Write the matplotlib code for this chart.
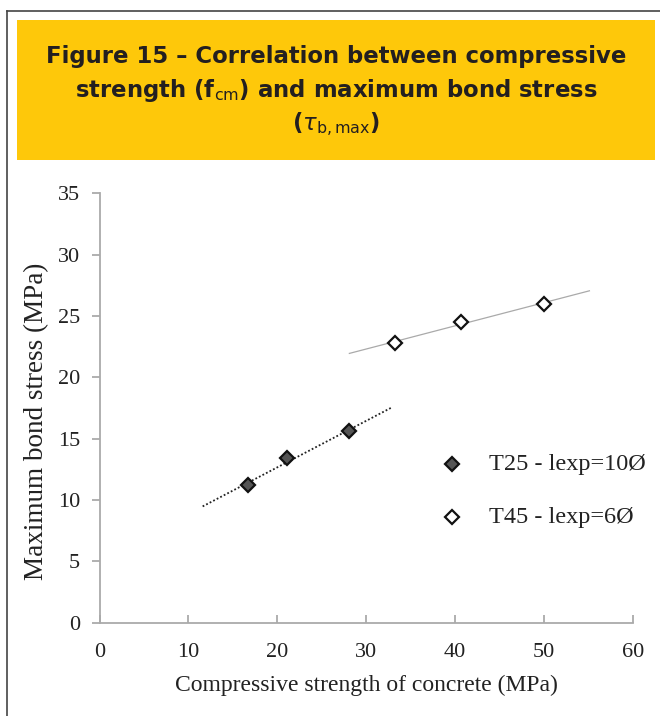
import matplotlib
matplotlib.use("Agg")
import matplotlib.pyplot as plt
import numpy as np
from matplotlib.patches import Rectangle
from matplotlib.lines import Line2D

# Data
t25_fcm = [16.7, 21.1, 28.1]
t25_tau = [11.2, 13.4, 15.6]
t45_fcm = [33.2, 40.6, 50.0]
t45_tau = [22.8, 24.5, 26.0]
t25_fit_range = [11.6, 32.9]
t45_fit_range = [28.1, 55.1]
x_ticks = [0, 10, 20, 30, 40, 50, 60]
y_ticks = [0, 5, 10, 15, 20, 25, 30, 35]
labels = ["T25 - lexp=10Ø", "T45 - lexp=6Ø"]
title_lines = ["Figure 15 – Correlation between compressive",
               r"strength (f$_{\mathrm{cm}}$) and maximum bond stress",
               r"($\tau_{\mathrm{b,max}}$)"]

W, H = 660, 716
plt.rcParams["mathtext.fontset"] = "dejavusans"
fig = plt.figure(figsize=(W / 100, H / 100), dpi=100)

# outer border (top & left)
fig.add_artist(Line2D([7 / W, 7 / W], [0, 1 - 11 / H], transform=fig.transFigure,
                      color="#444444", lw=1.2))
fig.add_artist(Line2D([7 / W, 1], [1 - 11 / H, 1 - 11 / H], transform=fig.transFigure,
                      color="#444444", lw=1.2))
# yellow header
fig.add_artist(Rectangle((17 / W, 1 - 160 / H), (655 - 17) / W, (160 - 20) / H,
                         transform=fig.transFigure, facecolor="#FEC80A", edgecolor="none"))

title_font = dict(family="DejaVu Sans", weight="bold", color="#231f20", fontsize=16.4)
fig.text(336 / W, 1 - 63.5 / H, title_lines[0], ha="center", va="baseline", **title_font)
fig.text(336 / W, 1 - 97 / H, title_lines[1], ha="center", va="baseline", **title_font)
fig.text(336 / W, 1 - 130 / H, title_lines[2], ha="center", va="baseline", **title_font)

ax = fig.add_axes([99.5 / W, 1 - 622.5 / H, (633 - 99.5) / W, (622.5 - 193.3) / H])
ax.set_xlim(0, 60)
ax.set_ylim(0, 35)

serif = "Liberation Serif"

# trend lines
p25 = np.polyfit(t25_fcm, t25_tau, 1)
xx25 = np.array(t25_fit_range)
ax.plot(xx25, np.polyval(p25, xx25), color="#222222", lw=1.3, ls=(0, (1, 1.2)), zorder=2)
p45 = np.polyfit(t45_fcm, t45_tau, 1)
xx45 = np.array(t45_fit_range)
ax.plot(xx45, np.polyval(p45, xx45), color="#aaaaaa", lw=0.9, zorder=2)

mk = dict(ls="none", marker="D", ms=7.5, mec="#111111", mew=1.6)
ax.plot(t25_fcm, t25_tau, mfc="#555555", zorder=3, **mk)
ax.plot(t45_fcm, t45_tau, mfc="white", zorder=3, **mk)

# legend (manual, in data coordinates of the plot area)
leg_x = 39.6
leg_tx = 43.8
ax.plot([leg_x], [12.9], mfc="#555555", clip_on=False, **mk)
ax.plot([leg_x], [8.6], mfc="white", clip_on=False, **mk)
ax.text(leg_tx, 12.9, labels[0], family=serif, fontsize=17.5,
        va="center", ha="left", color="#222222")
ax.text(leg_tx, 8.6, labels[1], family=serif, fontsize=17.5,
        va="center", ha="left", color="#222222")

for s in ["top", "right"]:
    ax.spines[s].set_visible(False)
for s in ["left", "bottom"]:
    ax.spines[s].set_color("#aaaaaa")
    ax.spines[s].set_linewidth(1.3)

ax.set_xticks(x_ticks)
ax.set_yticks(y_ticks)
ax.tick_params(axis="x", direction="in", length=6, width=1.3, color="#aaaaaa", pad=15,
               labelsize=16, labelcolor="#222222")
ax.tick_params(axis="y", direction="out", length=6, width=1.3, color="#aaaaaa", pad=8,
               labelsize=16, labelcolor="#222222")
for lab in ax.get_xticklabels() + ax.get_yticklabels():
    lab.set_family(serif)

ax.set_xlabel("Compressive strength of concrete (MPa)", family=serif, fontsize=17,
              color="#222222", labelpad=9)
ax.set_ylabel("Maximum bond stress (MPa)", family=serif, fontsize=19.5, color="#222222",
              va="center")
ax.yaxis.set_label_coords(-(99.5 - 37) / (633 - 99.5), (622.5 - 421) / (622.5 - 193.3))

fig.savefig("out.png", dpi=100)
